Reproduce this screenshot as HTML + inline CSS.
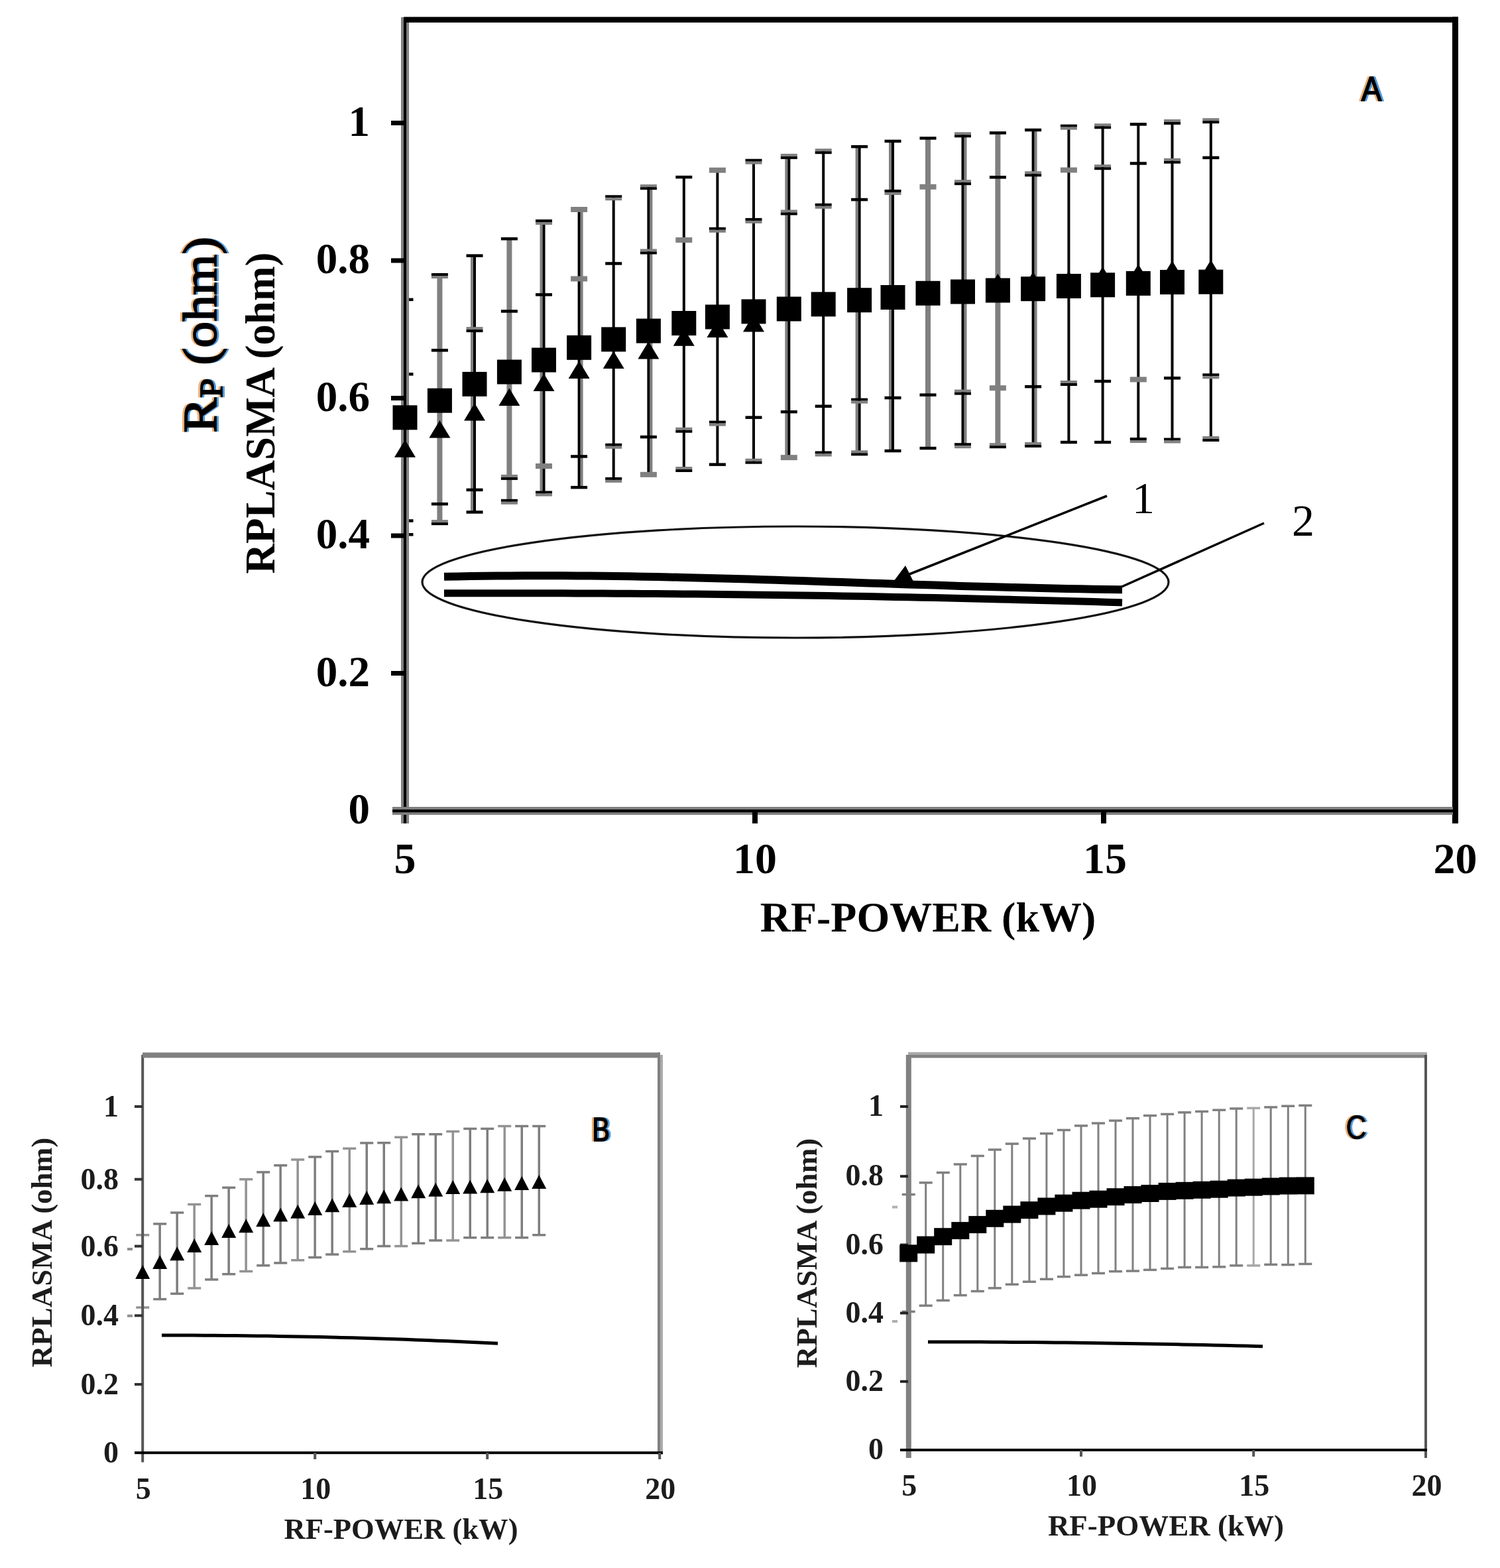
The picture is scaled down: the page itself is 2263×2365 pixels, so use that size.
<!DOCTYPE html><html><head><meta charset="utf-8"><title>RF power vs plasma resistance</title>
<style>html,body{margin:0;padding:0;background:#fff;}svg{display:block;}.tb{font-family:"Liberation Serif","Times New Roman",serif;font-weight:bold;fill:#000;}.tr{font-family:"Liberation Serif","Times New Roman",serif;font-weight:normal;fill:#000;}.tc{font-family:"Liberation Serif","Times New Roman",serif;font-weight:bold;fill:#1c1c1c;}.sb{font-family:"Liberation Sans",Arial,sans-serif;font-weight:bold;fill:#000;}</style></head><body>
<svg width="2263" height="2365" viewBox="0 0 2263 2365">
<rect x="0" y="0" width="2263" height="2365" fill="#fff"/>
<defs><filter id="ct" x="-20%" y="-20%" width="140%" height="140%" color-interpolation-filters="sRGB"><feOffset in="SourceAlpha" dx="-3" dy="0" result="l"/><feFlood flood-color="#e9a25c" flood-opacity="0.85"/><feComposite in2="l" operator="in" result="orange"/><feOffset in="SourceAlpha" dx="3" dy="0" result="r"/><feFlood flood-color="#2f86d6" flood-opacity="0.85"/><feComposite in2="r" operator="in" result="blue"/><feMerge><feMergeNode in="orange"/><feMergeNode in="blue"/><feMergeNode in="SourceGraphic"/></feMerge></filter></defs>
<g id="chartA">
<clipPath id="clipA"><rect x="611" y="0" width="1600" height="1223"/></clipPath>
<g clip-path="url(#clipA)">
<rect x="609" y="451.8" width="4" height="354.5" fill="#000"/>
<rect x="598.5" y="449.6" width="25" height="4.5" fill="#000"/>
<rect x="598.5" y="804" width="25" height="4.5" fill="#000"/>
<rect x="598.5" y="562.1" width="25" height="4.5" fill="#000"/>
<rect x="598.5" y="783.2" width="25" height="4.5" fill="#000"/>
<rect x="659.4" y="416" width="8" height="372.1" fill="#808080"/>
<rect x="650.9" y="412" width="25" height="4" fill="#000"/>
<rect x="650.9" y="416" width="25" height="4" fill="#808080"/>
<rect x="650.9" y="784.1" width="25" height="4" fill="#808080"/>
<rect x="650.9" y="788.1" width="25" height="4" fill="#000"/>
<rect x="650.9" y="526.1" width="25" height="4.5" fill="#000"/>
<rect x="650.9" y="757.9" width="25" height="4.5" fill="#000"/>
<rect x="710" y="385.6" width="4" height="386.9" fill="#808080"/>
<rect x="714" y="385.6" width="4" height="386.9" fill="#000"/>
<rect x="703.5" y="383.4" width="25" height="4.5" fill="#000"/>
<rect x="703.5" y="770.2" width="25" height="4.5" fill="#000"/>
<rect x="703.5" y="493.1" width="25" height="4" fill="#808080"/>
<rect x="703.5" y="497.1" width="25" height="4" fill="#000"/>
<rect x="703.5" y="736.6" width="25" height="4.5" fill="#000"/>
<rect x="764.4" y="360.2" width="8" height="396.6" fill="#808080"/>
<rect x="755.9" y="357.9" width="25" height="4.5" fill="#000"/>
<rect x="755.9" y="752.8" width="25" height="4" fill="#000"/>
<rect x="755.9" y="756.8" width="25" height="4" fill="#808080"/>
<rect x="755.9" y="467.2" width="25" height="4.5" fill="#000"/>
<rect x="755.9" y="715.9" width="25" height="4" fill="#808080"/>
<rect x="755.9" y="719.9" width="25" height="4" fill="#000"/>
<rect x="814.5" y="335" width="4" height="409.5" fill="#808080"/>
<rect x="818.5" y="335" width="4" height="409.5" fill="#000"/>
<rect x="808" y="331" width="25" height="4" fill="#000"/>
<rect x="808" y="335" width="25" height="4" fill="#808080"/>
<rect x="808" y="740.5" width="25" height="4" fill="#000"/>
<rect x="808" y="744.5" width="25" height="4" fill="#808080"/>
<rect x="808" y="442.2" width="25" height="4.5" fill="#000"/>
<rect x="808" y="699" width="25" height="8" fill="#808080"/>
<rect x="875.6" y="316" width="4" height="419.1" fill="#808080"/>
<rect x="871.6" y="316" width="4" height="419.1" fill="#000"/>
<rect x="861.1" y="312" width="25" height="8" fill="#808080"/>
<rect x="861.1" y="732.9" width="25" height="4.5" fill="#000"/>
<rect x="861.1" y="416.5" width="25" height="8" fill="#808080"/>
<rect x="861.1" y="686.2" width="25" height="4.5" fill="#000"/>
<rect x="923.7" y="298.3" width="4" height="425.6" fill="#000"/>
<rect x="913.2" y="294.3" width="25" height="4" fill="#000"/>
<rect x="913.2" y="298.3" width="25" height="4" fill="#808080"/>
<rect x="913.2" y="719.9" width="25" height="4" fill="#000"/>
<rect x="913.2" y="723.9" width="25" height="4" fill="#808080"/>
<rect x="913.2" y="395.2" width="25" height="4.5" fill="#000"/>
<rect x="913.2" y="668.8" width="25" height="4" fill="#000"/>
<rect x="913.2" y="672.8" width="25" height="4" fill="#808080"/>
<rect x="980.4" y="282.2" width="4" height="433.6" fill="#808080"/>
<rect x="976.4" y="282.2" width="4" height="433.6" fill="#000"/>
<rect x="965.9" y="278.2" width="25" height="4" fill="#808080"/>
<rect x="965.9" y="282.2" width="25" height="4" fill="#000"/>
<rect x="965.9" y="711.8" width="25" height="8" fill="#808080"/>
<rect x="965.9" y="375.5" width="25" height="4" fill="#808080"/>
<rect x="965.9" y="379.5" width="25" height="4" fill="#000"/>
<rect x="965.9" y="656.8" width="25" height="4.5" fill="#000"/>
<rect x="1029.8" y="267.2" width="4" height="440.8" fill="#000"/>
<rect x="1019.3" y="264.9" width="25" height="4.5" fill="#000"/>
<rect x="1019.3" y="704" width="25" height="4" fill="#808080"/>
<rect x="1019.3" y="708" width="25" height="4" fill="#000"/>
<rect x="1019.3" y="358" width="25" height="8" fill="#808080"/>
<rect x="1019.3" y="644.7" width="25" height="4" fill="#808080"/>
<rect x="1019.3" y="648.7" width="25" height="4" fill="#000"/>
<rect x="1080.4" y="256.7" width="4" height="443.9" fill="#000"/>
<rect x="1069.9" y="252.7" width="25" height="8" fill="#808080"/>
<rect x="1069.9" y="698.4" width="25" height="4.5" fill="#000"/>
<rect x="1069.9" y="342.8" width="25" height="4" fill="#000"/>
<rect x="1069.9" y="346.8" width="25" height="4" fill="#808080"/>
<rect x="1069.9" y="634.6" width="25" height="4" fill="#000"/>
<rect x="1069.9" y="638.6" width="25" height="4" fill="#808080"/>
<rect x="1135" y="243.7" width="4" height="452" fill="#000"/>
<rect x="1124.5" y="239.7" width="25" height="4" fill="#000"/>
<rect x="1124.5" y="243.7" width="25" height="4" fill="#808080"/>
<rect x="1124.5" y="691.7" width="25" height="4" fill="#808080"/>
<rect x="1124.5" y="695.7" width="25" height="4" fill="#000"/>
<rect x="1124.5" y="328.9" width="25" height="4" fill="#000"/>
<rect x="1124.5" y="332.9" width="25" height="4" fill="#808080"/>
<rect x="1124.5" y="627.4" width="25" height="4.5" fill="#000"/>
<rect x="1184.3" y="235.9" width="4" height="454.2" fill="#808080"/>
<rect x="1188.3" y="235.9" width="4" height="454.2" fill="#000"/>
<rect x="1177.8" y="231.9" width="25" height="4" fill="#808080"/>
<rect x="1177.8" y="235.9" width="25" height="4" fill="#000"/>
<rect x="1177.8" y="686.1" width="25" height="8" fill="#808080"/>
<rect x="1177.8" y="316.5" width="25" height="4" fill="#808080"/>
<rect x="1177.8" y="320.5" width="25" height="4" fill="#000"/>
<rect x="1177.8" y="618.9" width="25" height="4.5" fill="#000"/>
<rect x="1240.2" y="228.2" width="4" height="456.3" fill="#000"/>
<rect x="1229.7" y="224.2" width="25" height="4" fill="#808080"/>
<rect x="1229.7" y="228.2" width="25" height="4" fill="#000"/>
<rect x="1229.7" y="680.5" width="25" height="4" fill="#000"/>
<rect x="1229.7" y="684.5" width="25" height="4" fill="#808080"/>
<rect x="1229.7" y="306.8" width="25" height="4" fill="#000"/>
<rect x="1229.7" y="310.8" width="25" height="4" fill="#808080"/>
<rect x="1229.7" y="610.5" width="25" height="4.5" fill="#000"/>
<rect x="1290.6" y="221.2" width="4" height="462.1" fill="#808080"/>
<rect x="1294.6" y="221.2" width="4" height="462.1" fill="#000"/>
<rect x="1284.1" y="218.9" width="25" height="4.5" fill="#000"/>
<rect x="1284.1" y="679.3" width="25" height="4" fill="#808080"/>
<rect x="1284.1" y="683.3" width="25" height="4" fill="#000"/>
<rect x="1284.1" y="298.8" width="25" height="4.5" fill="#000"/>
<rect x="1284.1" y="600.6" width="25" height="4" fill="#000"/>
<rect x="1284.1" y="604.6" width="25" height="4" fill="#808080"/>
<rect x="1341" y="212.9" width="4" height="467.1" fill="#808080"/>
<rect x="1345" y="212.9" width="4" height="467.1" fill="#000"/>
<rect x="1334.5" y="210.7" width="25" height="4.5" fill="#000"/>
<rect x="1334.5" y="677.8" width="25" height="4.5" fill="#000"/>
<rect x="1334.5" y="286" width="25" height="4" fill="#000"/>
<rect x="1334.5" y="290" width="25" height="4" fill="#808080"/>
<rect x="1334.5" y="597.8" width="25" height="4.5" fill="#000"/>
<rect x="1396" y="208.4" width="8" height="467.6" fill="#808080"/>
<rect x="1387.5" y="206.2" width="25" height="4.5" fill="#000"/>
<rect x="1387.5" y="673.8" width="25" height="4.5" fill="#000"/>
<rect x="1387.5" y="277.8" width="25" height="8" fill="#808080"/>
<rect x="1387.5" y="593.4" width="25" height="4.5" fill="#000"/>
<rect x="1454.5" y="203.3" width="4" height="468.9" fill="#808080"/>
<rect x="1450.5" y="203.3" width="4" height="468.9" fill="#000"/>
<rect x="1440" y="199.3" width="25" height="4" fill="#808080"/>
<rect x="1440" y="203.3" width="25" height="4" fill="#000"/>
<rect x="1440" y="668.2" width="25" height="4" fill="#000"/>
<rect x="1440" y="672.2" width="25" height="4" fill="#808080"/>
<rect x="1440" y="271.2" width="25" height="4" fill="#808080"/>
<rect x="1440" y="275.2" width="25" height="4" fill="#000"/>
<rect x="1440" y="587.6" width="25" height="4" fill="#808080"/>
<rect x="1440" y="591.6" width="25" height="4" fill="#000"/>
<rect x="1501.4" y="200.4" width="8" height="471.8" fill="#808080"/>
<rect x="1492.9" y="198.2" width="25" height="4.5" fill="#000"/>
<rect x="1492.9" y="668.2" width="25" height="4" fill="#808080"/>
<rect x="1492.9" y="672.2" width="25" height="4" fill="#000"/>
<rect x="1492.9" y="265.1" width="25" height="4.5" fill="#000"/>
<rect x="1492.9" y="581.2" width="25" height="8" fill="#808080"/>
<rect x="1560.6" y="196.1" width="4" height="474.8" fill="#808080"/>
<rect x="1556.6" y="196.1" width="4" height="474.8" fill="#000"/>
<rect x="1546.1" y="193.8" width="25" height="4.5" fill="#000"/>
<rect x="1546.1" y="666.9" width="25" height="4" fill="#808080"/>
<rect x="1546.1" y="670.9" width="25" height="4" fill="#000"/>
<rect x="1546.1" y="258.3" width="25" height="4" fill="#808080"/>
<rect x="1546.1" y="262.3" width="25" height="4" fill="#000"/>
<rect x="1546.1" y="580.9" width="25" height="4.5" fill="#000"/>
<rect x="1610.4" y="191.7" width="4" height="475.3" fill="#000"/>
<rect x="1599.9" y="187.7" width="25" height="4" fill="#000"/>
<rect x="1599.9" y="191.7" width="25" height="4" fill="#808080"/>
<rect x="1599.9" y="664.8" width="25" height="4.5" fill="#000"/>
<rect x="1599.9" y="252.5" width="25" height="8" fill="#808080"/>
<rect x="1599.9" y="574" width="25" height="4" fill="#808080"/>
<rect x="1599.9" y="578" width="25" height="4" fill="#000"/>
<rect x="1661.6" y="190.3" width="4" height="476.7" fill="#000"/>
<rect x="1651.1" y="186.3" width="25" height="4" fill="#808080"/>
<rect x="1651.1" y="190.3" width="25" height="4" fill="#000"/>
<rect x="1651.1" y="664.8" width="25" height="4.5" fill="#000"/>
<rect x="1651.1" y="248.2" width="25" height="4" fill="#808080"/>
<rect x="1651.1" y="252.2" width="25" height="4" fill="#000"/>
<rect x="1651.1" y="572.8" width="25" height="4.5" fill="#000"/>
<rect x="1715.3" y="187.4" width="4" height="476.6" fill="#000"/>
<rect x="1704.8" y="185.2" width="25" height="4.5" fill="#000"/>
<rect x="1704.8" y="660" width="25" height="4" fill="#000"/>
<rect x="1704.8" y="664" width="25" height="4" fill="#808080"/>
<rect x="1704.8" y="244.2" width="25" height="4.5" fill="#000"/>
<rect x="1704.8" y="568.4" width="25" height="8" fill="#808080"/>
<rect x="1766.5" y="184" width="4" height="480.5" fill="#000"/>
<rect x="1756" y="180" width="25" height="4" fill="#808080"/>
<rect x="1756" y="184" width="25" height="4" fill="#000"/>
<rect x="1756" y="660.5" width="25" height="4" fill="#000"/>
<rect x="1756" y="664.5" width="25" height="4" fill="#808080"/>
<rect x="1756" y="238.7" width="25" height="4" fill="#808080"/>
<rect x="1756" y="242.7" width="25" height="4" fill="#000"/>
<rect x="1756" y="568" width="25" height="4.5" fill="#000"/>
<rect x="1824.8" y="182.2" width="4" height="479.8" fill="#000"/>
<rect x="1814.3" y="178.2" width="25" height="4" fill="#808080"/>
<rect x="1814.3" y="182.2" width="25" height="4" fill="#000"/>
<rect x="1814.3" y="658" width="25" height="4" fill="#808080"/>
<rect x="1814.3" y="662" width="25" height="4" fill="#000"/>
<rect x="1814.3" y="235.6" width="25" height="4.5" fill="#000"/>
<rect x="1814.3" y="563.3" width="25" height="4" fill="#000"/>
<rect x="1814.3" y="567.3" width="25" height="4" fill="#808080"/>
</g>
<rect x="605" y="26" width="12" height="1216" fill="#808080"/>
<rect x="609" y="26" width="4" height="1216" fill="#000"/>
<rect x="609" y="25.5" width="1591" height="8.5" fill="#000"/>
<rect x="2191" y="25.5" width="9" height="1216.5" fill="#000"/>
<rect x="592" y="1217" width="1600" height="12" fill="#808080"/>
<rect x="592" y="1221" width="1600" height="4.2" fill="#000"/>
<rect x="590" y="1012" width="21" height="7" fill="#000"/>
<rect x="590" y="804.5" width="21" height="7" fill="#000"/>
<rect x="590" y="597" width="21" height="7" fill="#000"/>
<rect x="590" y="389.5" width="21" height="7" fill="#000"/>
<rect x="590" y="182" width="21" height="7" fill="#000"/>
<rect x="1135" y="1223" width="8" height="19" fill="#000"/>
<rect x="1661" y="1223" width="8" height="19" fill="#000"/>
<path d="M611 663.2L627 689.8L595 689.8Z" fill="#000"/>
<path d="M663.4 634.1L679.4 660.6L647.4 660.6Z" fill="#000"/>
<path d="M716 608L732 634.5L700 634.5Z" fill="#000"/>
<path d="M768.4 585.5L784.4 612L752.4 612Z" fill="#000"/>
<path d="M820.5 563.6L836.5 590.1L804.5 590.1Z" fill="#000"/>
<path d="M873.6 544.6L889.6 571.1L857.6 571.1Z" fill="#000"/>
<path d="M925.7 529.5L941.7 556L909.7 556Z" fill="#000"/>
<path d="M978.4 515L994.4 541.5L962.4 541.5Z" fill="#000"/>
<path d="M1031.8 495.2L1047.8 521.7L1015.8 521.7Z" fill="#000"/>
<path d="M1082.4 482.4L1098.4 508.9L1066.4 508.9Z" fill="#000"/>
<path d="M1137 473.9L1153 500.4L1121 500.4Z" fill="#000"/>
<path d="M1190.3 457.3L1206.3 483.8L1174.3 483.8Z" fill="#000"/>
<path d="M1242.2 448.3L1258.2 474.8L1226.2 474.8Z" fill="#000"/>
<path d="M1296.6 439.3L1312.6 465.8L1280.6 465.8Z" fill="#000"/>
<path d="M1347 431.5L1363 458L1331 458Z" fill="#000"/>
<path d="M1400 425.2L1416 451.7L1384 451.7Z" fill="#000"/>
<path d="M1452.5 419.9L1468.5 446.4L1436.5 446.4Z" fill="#000"/>
<path d="M1505.4 412.8L1521.4 439.3L1489.4 439.3Z" fill="#000"/>
<path d="M1558.6 410L1574.6 436.5L1542.6 436.5Z" fill="#000"/>
<path d="M1612.4 408.6L1628.4 435.1L1596.4 435.1Z" fill="#000"/>
<path d="M1663.6 402.2L1679.6 428.7L1647.6 428.7Z" fill="#000"/>
<path d="M1717.3 398.4L1733.3 424.9L1701.3 424.9Z" fill="#000"/>
<path d="M1768.5 393.3L1784.5 419.8L1752.5 419.8Z" fill="#000"/>
<path d="M1826.8 392L1842.8 418.5L1810.8 418.5Z" fill="#000"/>
<rect x="592.5" y="611.3" width="37" height="37" fill="#000"/>
<rect x="644.9" y="585.7" width="37" height="37" fill="#000"/>
<rect x="697.5" y="560.9" width="37" height="37" fill="#000"/>
<rect x="749.9" y="542.5" width="37" height="37" fill="#000"/>
<rect x="802" y="524.5" width="37" height="37" fill="#000"/>
<rect x="855.1" y="505.8" width="37" height="37" fill="#000"/>
<rect x="907.2" y="493.4" width="37" height="37" fill="#000"/>
<rect x="959.9" y="480.6" width="37" height="37" fill="#000"/>
<rect x="1013.3" y="469" width="37" height="37" fill="#000"/>
<rect x="1063.9" y="459.5" width="37" height="37" fill="#000"/>
<rect x="1118.5" y="451.4" width="37" height="37" fill="#000"/>
<rect x="1171.8" y="447.5" width="37" height="37" fill="#000"/>
<rect x="1223.7" y="440.4" width="37" height="37" fill="#000"/>
<rect x="1278.1" y="434.2" width="37" height="37" fill="#000"/>
<rect x="1328.5" y="430" width="37" height="37" fill="#000"/>
<rect x="1381.5" y="423.8" width="37" height="37" fill="#000"/>
<rect x="1434" y="421.5" width="37" height="37" fill="#000"/>
<rect x="1486.9" y="419.5" width="37" height="37" fill="#000"/>
<rect x="1540.1" y="417.2" width="37" height="37" fill="#000"/>
<rect x="1593.9" y="413" width="37" height="37" fill="#000"/>
<rect x="1645.1" y="411.3" width="37" height="37" fill="#000"/>
<rect x="1698.8" y="408.9" width="37" height="37" fill="#000"/>
<rect x="1750" y="407.1" width="37" height="37" fill="#000"/>
<rect x="1808.3" y="406.7" width="37" height="37" fill="#000"/>
<ellipse cx="1200" cy="878" rx="563" ry="84" fill="none" stroke="#111" stroke-width="3.2"/>
<path d="M670 869.8 L690 869.4 L710 869 L730 868.7 L750 868.5 L770 868.4 L790 868.3 L810 868.2 L830 868.2 L850 868.3 L870 868.4 L890 868.6 L910 868.8 L930 869 L950 869.3 L970 869.7 L990 870.1 L1010 870.5 L1030 870.9 L1050 871.4 L1070 871.9 L1090 872.4 L1110 873 L1130 873.6 L1150 874.2 L1170 874.8 L1190 875.4 L1210 876.1 L1230 876.7 L1250 877.4 L1270 878 L1290 878.7 L1310 879.4 L1330 880 L1350 880.7 L1370 881.4 L1390 882 L1410 882.6 L1430 883.3 L1450 883.9 L1470 884.5 L1490 885.1 L1510 885.6 L1530 886.1 L1550 886.6 L1570 887.1 L1590 887.5 L1610 888 L1630 888.3 L1650 888.7 L1670 889 L1690 889.2 L1693 889.2" fill="none" stroke="#000" stroke-width="12" stroke-linejoin="round"/>
<path d="M670 894.8 L690 894.8 L710 894.7 L730 894.7 L750 894.7 L770 894.7 L790 894.7 L810 894.7 L830 894.8 L850 894.8 L870 894.9 L890 895 L910 895.1 L930 895.2 L950 895.3 L970 895.4 L990 895.6 L1010 895.7 L1030 895.9 L1050 896.1 L1070 896.3 L1090 896.5 L1110 896.7 L1130 896.9 L1150 897.2 L1170 897.4 L1190 897.7 L1210 898 L1230 898.3 L1250 898.6 L1270 898.9 L1290 899.3 L1310 899.6 L1330 900 L1350 900.4 L1370 900.8 L1390 901.2 L1410 901.6 L1430 902 L1450 902.5 L1470 902.9 L1490 903.4 L1510 903.9 L1530 904.4 L1550 904.9 L1570 905.4 L1590 905.9 L1610 906.5 L1630 907 L1650 907.6 L1670 908.2 L1690 908.8 L1693 908.9" fill="none" stroke="#000" stroke-width="11" stroke-linejoin="round"/>
<line x1="1670" y1="748" x2="1372" y2="866" stroke="#000" stroke-width="3.5"/>
<path d="M1366 853 L1378 877 L1348 877 Z" fill="#000"/>
<line x1="1907" y1="789" x2="1690" y2="886" stroke="#000" stroke-width="3.5"/>
<text class="tb" x="558" y="1242" font-size="65" text-anchor="end">0</text>
<text class="tb" x="558" y="1034.5" font-size="65" text-anchor="end">0.2</text>
<text class="tb" x="558" y="827" font-size="65" text-anchor="end">0.4</text>
<text class="tb" x="558" y="619.5" font-size="65" text-anchor="end">0.6</text>
<text class="tb" x="558" y="412" font-size="65" text-anchor="end">0.8</text>
<text class="tb" x="558" y="204.5" font-size="65" text-anchor="end">1</text>
<text class="tb" x="611" y="1317" font-size="66" text-anchor="middle">5</text>
<text class="tb" x="1139" y="1317" font-size="66" text-anchor="middle">10</text>
<text class="tb" x="1667" y="1317" font-size="66" text-anchor="middle">15</text>
<text class="tb" x="2195.5" y="1317" font-size="66" text-anchor="middle">20</text>
<text class="tb" x="1400" y="1405" font-size="64" text-anchor="middle">RF-POWER (kW)</text>
<g filter="url(#ct)">
<text class="tr" transform="translate(325.7 505) rotate(-90) scale(1.1 1)" font-size="72" stroke="#000" stroke-width="1.8" text-anchor="middle">R<tspan font-size="48" dy="9">P</tspan><tspan dy="-9"> (ohm)</tspan></text>
</g>
<text class="tb" transform="translate(414 623) rotate(-90)" font-size="63" text-anchor="middle">RPLASMA (ohm)</text>
<g filter="url(#ct)"><text class="sb" transform="translate(2069 152) scale(0.88 1)" font-size="52" style="font-weight:normal" stroke="#000" stroke-width="1.6" text-anchor="middle">A</text></g>
<text class="tr" x="1725" y="774" font-size="68" text-anchor="middle">1</text>
<text class="tr" x="1966" y="808" font-size="68" text-anchor="middle">2</text>
</g>
<g id="chartB">
<rect x="213.4" y="1862.7" width="3.5" height="109.4" fill="#939393"/>
<rect x="205.2" y="1861" width="20" height="3.5" fill="#939393"/>
<rect x="205.2" y="1970.3" width="20" height="3.5" fill="#939393"/>
<rect x="239.4" y="1846" width="3.5" height="113.6" fill="#7e7e7e"/>
<rect x="231.2" y="1844.2" width="20" height="3.5" fill="#7e7e7e"/>
<rect x="231.2" y="1957.8" width="20" height="3.5" fill="#7e7e7e"/>
<rect x="265.4" y="1829.1" width="3.5" height="122.1" fill="#7e7e7e"/>
<rect x="257.2" y="1827.3" width="20" height="3.5" fill="#7e7e7e"/>
<rect x="257.2" y="1949.5" width="20" height="3.5" fill="#7e7e7e"/>
<rect x="291.4" y="1816.6" width="3.5" height="126.3" fill="#939393"/>
<rect x="283.2" y="1814.8" width="20" height="3.5" fill="#939393"/>
<rect x="283.2" y="1941.2" width="20" height="3.5" fill="#939393"/>
<rect x="317.4" y="1803.8" width="3.5" height="126.1" fill="#7e7e7e"/>
<rect x="309.2" y="1802" width="20" height="3.5" fill="#7e7e7e"/>
<rect x="309.2" y="1928.2" width="20" height="3.5" fill="#7e7e7e"/>
<rect x="343.4" y="1791.3" width="3.5" height="130.5" fill="#7e7e7e"/>
<rect x="335.2" y="1789.5" width="20" height="3.5" fill="#7e7e7e"/>
<rect x="335.2" y="1920" width="20" height="3.5" fill="#7e7e7e"/>
<rect x="369.4" y="1778.8" width="3.5" height="138.8" fill="#939393"/>
<rect x="361.2" y="1777" width="20" height="3.5" fill="#939393"/>
<rect x="361.2" y="1915.8" width="20" height="3.5" fill="#939393"/>
<rect x="395.4" y="1767.9" width="3.5" height="140.8" fill="#7e7e7e"/>
<rect x="387.2" y="1766.2" width="20" height="3.5" fill="#7e7e7e"/>
<rect x="387.2" y="1907" width="20" height="3.5" fill="#7e7e7e"/>
<rect x="421.4" y="1757.7" width="3.5" height="147.2" fill="#7e7e7e"/>
<rect x="413.2" y="1756" width="20" height="3.5" fill="#7e7e7e"/>
<rect x="413.2" y="1903.2" width="20" height="3.5" fill="#7e7e7e"/>
<rect x="447.4" y="1749.1" width="3.5" height="151.6" fill="#939393"/>
<rect x="439.2" y="1747.3" width="20" height="3.5" fill="#939393"/>
<rect x="439.2" y="1899" width="20" height="3.5" fill="#939393"/>
<rect x="473.4" y="1744.9" width="3.5" height="151.6" fill="#7e7e7e"/>
<rect x="465.2" y="1743.2" width="20" height="3.5" fill="#7e7e7e"/>
<rect x="465.2" y="1894.8" width="20" height="3.5" fill="#7e7e7e"/>
<rect x="499.4" y="1736.6" width="3.5" height="155.5" fill="#7e7e7e"/>
<rect x="491.2" y="1734.8" width="20" height="3.5" fill="#7e7e7e"/>
<rect x="491.2" y="1890.3" width="20" height="3.5" fill="#7e7e7e"/>
<rect x="525.5" y="1732.2" width="3.5" height="155.6" fill="#939393"/>
<rect x="517.2" y="1730.5" width="20" height="3.5" fill="#939393"/>
<rect x="517.2" y="1886" width="20" height="3.5" fill="#939393"/>
<rect x="551.5" y="1724" width="3.5" height="159.7" fill="#7e7e7e"/>
<rect x="543.2" y="1722.2" width="20" height="3.5" fill="#7e7e7e"/>
<rect x="543.2" y="1882" width="20" height="3.5" fill="#7e7e7e"/>
<rect x="577.5" y="1723.8" width="3.5" height="155.7" fill="#7e7e7e"/>
<rect x="569.2" y="1722" width="20" height="3.5" fill="#7e7e7e"/>
<rect x="569.2" y="1877.8" width="20" height="3.5" fill="#7e7e7e"/>
<rect x="603.5" y="1715.2" width="3.5" height="164.3" fill="#939393"/>
<rect x="595.2" y="1713.5" width="20" height="3.5" fill="#939393"/>
<rect x="595.2" y="1877.8" width="20" height="3.5" fill="#939393"/>
<rect x="629.5" y="1710.8" width="3.5" height="164.5" fill="#7e7e7e"/>
<rect x="621.2" y="1709" width="20" height="3.5" fill="#7e7e7e"/>
<rect x="621.2" y="1873.5" width="20" height="3.5" fill="#7e7e7e"/>
<rect x="655.5" y="1710.8" width="3.5" height="160.1" fill="#7e7e7e"/>
<rect x="647.2" y="1709" width="20" height="3.5" fill="#7e7e7e"/>
<rect x="647.2" y="1869.2" width="20" height="3.5" fill="#7e7e7e"/>
<rect x="681.5" y="1706.6" width="3.5" height="164.3" fill="#939393"/>
<rect x="673.2" y="1704.8" width="20" height="3.5" fill="#939393"/>
<rect x="673.2" y="1869.2" width="20" height="3.5" fill="#939393"/>
<rect x="707.5" y="1702.4" width="3.5" height="164.3" fill="#7e7e7e"/>
<rect x="699.2" y="1700.7" width="20" height="3.5" fill="#7e7e7e"/>
<rect x="699.2" y="1865" width="20" height="3.5" fill="#7e7e7e"/>
<rect x="733.5" y="1702.4" width="3.5" height="164.3" fill="#7e7e7e"/>
<rect x="725.2" y="1700.7" width="20" height="3.5" fill="#7e7e7e"/>
<rect x="725.2" y="1865" width="20" height="3.5" fill="#7e7e7e"/>
<rect x="759.5" y="1698.5" width="3.5" height="168.2" fill="#939393"/>
<rect x="751.2" y="1696.8" width="20" height="3.5" fill="#939393"/>
<rect x="751.2" y="1865" width="20" height="3.5" fill="#939393"/>
<rect x="785.5" y="1698.5" width="3.5" height="168.2" fill="#7e7e7e"/>
<rect x="777.2" y="1696.8" width="20" height="3.5" fill="#7e7e7e"/>
<rect x="777.2" y="1865" width="20" height="3.5" fill="#7e7e7e"/>
<rect x="811.5" y="1698.5" width="3.5" height="164.3" fill="#7e7e7e"/>
<rect x="803.2" y="1696.8" width="20" height="3.5" fill="#7e7e7e"/>
<rect x="803.2" y="1861" width="20" height="3.5" fill="#7e7e7e"/>
<path d="M244 2014 L260 2014 L276 2014 L292 2014.1 L308 2014.2 L324 2014.3 L340 2014.4 L356 2014.5 L372 2014.7 L388 2014.9 L404 2015.1 L420 2015.4 L436 2015.7 L452 2016 L468 2016.3 L484 2016.6 L500 2017 L516 2017.4 L532 2017.8 L548 2018.3 L564 2018.8 L580 2019.3 L596 2019.8 L612 2020.3 L628 2020.9 L644 2021.5 L660 2022.2 L676 2022.8 L692 2023.5 L708 2024.2 L724 2024.9 L740 2025.7 L751 2026.2" fill="none" stroke="#000" stroke-width="5"/>
<rect x="213.2" y="1591" width="4" height="614.5" fill="#555"/>
<rect x="215" y="1587.5" width="781" height="8" fill="#808080"/>
<rect x="992" y="1587.5" width="4" height="606" fill="#808080"/>
<rect x="996" y="1591" width="4" height="603" fill="#aaa"/>
<rect x="203" y="2189.2" width="797" height="4" fill="#000"/>
<rect x="203" y="2086" width="12" height="4" fill="#333"/>
<rect x="203" y="1982.3" width="12" height="4" fill="#333"/>
<rect x="203" y="1877.6" width="12" height="4" fill="#333"/>
<rect x="203" y="1776.7" width="12" height="4" fill="#333"/>
<rect x="203" y="1667" width="12" height="4" fill="#333"/>
<rect x="473.2" y="2191" width="4" height="10" fill="#555"/>
<rect x="733.2" y="2191" width="4" height="10" fill="#555"/>
<rect x="993.2" y="2191" width="4" height="10" fill="#555"/>
<path d="M215.2 1908L226.2 1929L204.2 1929Z" fill="#000"/>
<path d="M241.2 1893L252.2 1914L230.2 1914Z" fill="#000"/>
<path d="M267.2 1880.2L278.2 1901.2L256.2 1901.2Z" fill="#000"/>
<path d="M293.2 1868.1L304.2 1889.1L282.2 1889.1Z" fill="#000"/>
<path d="M319.2 1857L330.2 1878L308.2 1878Z" fill="#000"/>
<path d="M345.2 1846L356.2 1867L334.2 1867Z" fill="#000"/>
<path d="M371.2 1838.3L382.2 1859.3L360.2 1859.3Z" fill="#000"/>
<path d="M397.2 1829.3L408.2 1850.3L386.2 1850.3Z" fill="#000"/>
<path d="M423.2 1821.6L434.2 1842.6L412.2 1842.6Z" fill="#000"/>
<path d="M449.2 1816.8L460.2 1837.8L438.2 1837.8Z" fill="#000"/>
<path d="M475.2 1812L486.2 1833L464.2 1833Z" fill="#000"/>
<path d="M501.2 1807.2L512.2 1828.2L490.2 1828.2Z" fill="#000"/>
<path d="M527.2 1800L538.2 1821L516.2 1821Z" fill="#000"/>
<path d="M553.2 1795.9L564.2 1816.9L542.2 1816.9Z" fill="#000"/>
<path d="M579.2 1794.2L590.2 1815.2L568.2 1815.2Z" fill="#000"/>
<path d="M605.2 1790.5L616.2 1811.5L594.2 1811.5Z" fill="#000"/>
<path d="M631.2 1786.2L642.2 1807.2L620.2 1807.2Z" fill="#000"/>
<path d="M657.2 1783.8L668.2 1804.8L646.2 1804.8Z" fill="#000"/>
<path d="M683.2 1780.1L694.2 1801.1L672.2 1801.1Z" fill="#000"/>
<path d="M709.2 1779.5L720.2 1800.5L698.2 1800.5Z" fill="#000"/>
<path d="M735.2 1778.2L746.2 1799.2L724.2 1799.2Z" fill="#000"/>
<path d="M761.2 1775.8L772.2 1796.8L750.2 1796.8Z" fill="#000"/>
<path d="M787.2 1773.9L798.2 1794.9L776.2 1794.9Z" fill="#000"/>
<path d="M813.2 1772.1L824.2 1793.1L802.2 1793.1Z" fill="#000"/>
<text class="tc" x="179" y="2206.2" font-size="46" text-anchor="end" fill="#111">0</text>
<text class="tc" x="179" y="2103" font-size="46" text-anchor="end" fill="#111">0.2</text>
<text class="tc" x="179" y="1999.3" font-size="46" text-anchor="end" fill="#111">0.4</text>
<text class="tc" x="179" y="1894.6" font-size="46" text-anchor="end" fill="#111">0.6</text>
<text class="tc" x="179" y="1793.7" font-size="46" text-anchor="end" fill="#111">0.8</text>
<text class="tc" x="179" y="1684" font-size="46" text-anchor="end" fill="#111">1</text>
<text class="tc" x="216.2" y="2261" font-size="46" text-anchor="middle">5</text>
<text class="tc" x="476.2" y="2261" font-size="46" text-anchor="middle">10</text>
<text class="tc" x="736.2" y="2261" font-size="46" text-anchor="middle">15</text>
<text class="tc" x="996.2" y="2261" font-size="46" text-anchor="middle">20</text>
<text class="tc" x="605" y="2321" font-size="44.6" text-anchor="middle">RF-POWER (kW)</text>
<text class="tc" transform="translate(78.4 1889) rotate(-90)" font-size="45" text-anchor="middle">RPLASMA (ohm)</text>
<rect x="192" y="1882" width="8" height="4" fill="#909090"/>
<rect x="192" y="1982.7" width="8" height="4" fill="#909090"/>
<g filter="url(#ct)"><text class="sb" transform="translate(906.5 1721) scale(0.8 1)" font-size="50" style="font-weight:normal" stroke="#000" stroke-width="1.6" text-anchor="middle">B</text></g>
</g>
<g id="chartC">
<rect x="1369.2" y="1801.7" width="3" height="176.6" fill="#808080"/>
<rect x="1360.7" y="1799.9" width="20" height="3.5" fill="#808080"/>
<rect x="1360.7" y="1976.5" width="20" height="3.5" fill="#808080"/>
<rect x="1395.2" y="1783.8" width="3" height="185.4" fill="#808080"/>
<rect x="1386.7" y="1782.1" width="20" height="3.5" fill="#808080"/>
<rect x="1386.7" y="1967.5" width="20" height="3.5" fill="#808080"/>
<rect x="1421.2" y="1768.7" width="3" height="192.8" fill="#808080"/>
<rect x="1412.8" y="1766.9" width="20" height="3.5" fill="#808080"/>
<rect x="1412.8" y="1959.7" width="20" height="3.5" fill="#808080"/>
<rect x="1447.3" y="1756" width="3" height="197.6" fill="#808080"/>
<rect x="1438.8" y="1754.3" width="20" height="3.5" fill="#808080"/>
<rect x="1438.8" y="1951.9" width="20" height="3.5" fill="#808080"/>
<rect x="1473.3" y="1743.5" width="3" height="204" fill="#808080"/>
<rect x="1464.8" y="1741.7" width="20" height="3.5" fill="#808080"/>
<rect x="1464.8" y="1945.8" width="20" height="3.5" fill="#808080"/>
<rect x="1499.3" y="1734" width="3" height="208.8" fill="#808080"/>
<rect x="1490.8" y="1732.3" width="20" height="3.5" fill="#808080"/>
<rect x="1490.8" y="1941.1" width="20" height="3.5" fill="#808080"/>
<rect x="1525.3" y="1725.2" width="3" height="212" fill="#808080"/>
<rect x="1516.8" y="1723.4" width="20" height="3.5" fill="#808080"/>
<rect x="1516.8" y="1935.5" width="20" height="3.5" fill="#808080"/>
<rect x="1551.4" y="1717.2" width="3" height="216" fill="#808080"/>
<rect x="1542.9" y="1715.4" width="20" height="3.5" fill="#808080"/>
<rect x="1542.9" y="1931.5" width="20" height="3.5" fill="#808080"/>
<rect x="1577.4" y="1709.7" width="3" height="219.6" fill="#808080"/>
<rect x="1568.9" y="1708" width="20" height="3.5" fill="#808080"/>
<rect x="1568.9" y="1927.6" width="20" height="3.5" fill="#808080"/>
<rect x="1603.4" y="1704.5" width="3" height="221.2" fill="#808080"/>
<rect x="1594.9" y="1702.7" width="20" height="3.5" fill="#808080"/>
<rect x="1594.9" y="1923.9" width="20" height="3.5" fill="#808080"/>
<rect x="1629.5" y="1698" width="3" height="225.2" fill="#808080"/>
<rect x="1621" y="1696.2" width="20" height="3.5" fill="#808080"/>
<rect x="1621" y="1921.4" width="20" height="3.5" fill="#808080"/>
<rect x="1655.5" y="1694.1" width="3" height="226.3" fill="#808080"/>
<rect x="1647" y="1692.4" width="20" height="3.5" fill="#808080"/>
<rect x="1647" y="1918.7" width="20" height="3.5" fill="#808080"/>
<rect x="1681.5" y="1690.3" width="3" height="227.3" fill="#808080"/>
<rect x="1673" y="1688.5" width="20" height="3.5" fill="#808080"/>
<rect x="1673" y="1915.9" width="20" height="3.5" fill="#808080"/>
<rect x="1707.5" y="1686.8" width="3" height="230.2" fill="#808080"/>
<rect x="1699" y="1685" width="20" height="3.5" fill="#808080"/>
<rect x="1699" y="1915.3" width="20" height="3.5" fill="#808080"/>
<rect x="1733.5" y="1682.7" width="3" height="232.7" fill="#808080"/>
<rect x="1725" y="1680.9" width="20" height="3.5" fill="#808080"/>
<rect x="1725" y="1913.6" width="20" height="3.5" fill="#808080"/>
<rect x="1759.6" y="1680.4" width="3" height="233" fill="#808080"/>
<rect x="1751.1" y="1678.7" width="20" height="3.5" fill="#808080"/>
<rect x="1751.1" y="1911.6" width="20" height="3.5" fill="#808080"/>
<rect x="1785.6" y="1677.9" width="3" height="233.6" fill="#808080"/>
<rect x="1777.1" y="1676.1" width="20" height="3.5" fill="#808080"/>
<rect x="1777.1" y="1909.7" width="20" height="3.5" fill="#808080"/>
<rect x="1811.6" y="1676.4" width="3" height="235.1" fill="#808080"/>
<rect x="1803.1" y="1674.7" width="20" height="3.5" fill="#808080"/>
<rect x="1803.1" y="1909.7" width="20" height="3.5" fill="#808080"/>
<rect x="1837.7" y="1674.3" width="3" height="236.6" fill="#808080"/>
<rect x="1829.2" y="1672.5" width="20" height="3.5" fill="#808080"/>
<rect x="1829.2" y="1909.1" width="20" height="3.5" fill="#808080"/>
<rect x="1863.7" y="1672.1" width="3" height="236.8" fill="#808080"/>
<rect x="1855.2" y="1670.3" width="20" height="3.5" fill="#808080"/>
<rect x="1855.2" y="1907.1" width="20" height="3.5" fill="#808080"/>
<rect x="1889.7" y="1671.4" width="3" height="237.5" fill="#a8a8a8"/>
<rect x="1881.2" y="1669.6" width="20" height="3.5" fill="#a8a8a8"/>
<rect x="1881.2" y="1907.1" width="20" height="3.5" fill="#a8a8a8"/>
<rect x="1915.7" y="1669.9" width="3" height="237.5" fill="#808080"/>
<rect x="1907.2" y="1668.2" width="20" height="3.5" fill="#808080"/>
<rect x="1907.2" y="1905.6" width="20" height="3.5" fill="#808080"/>
<rect x="1941.8" y="1668.3" width="3" height="239.4" fill="#808080"/>
<rect x="1933.2" y="1666.5" width="20" height="3.5" fill="#808080"/>
<rect x="1933.2" y="1905.9" width="20" height="3.5" fill="#808080"/>
<rect x="1967.8" y="1667.4" width="3" height="239" fill="#808080"/>
<rect x="1959.3" y="1665.6" width="20" height="3.5" fill="#808080"/>
<rect x="1959.3" y="1904.7" width="20" height="3.5" fill="#808080"/>
<path d="M1400 2023.9 L1416 2023.9 L1432 2024 L1448 2024 L1464 2024 L1480 2024.1 L1496 2024.2 L1512 2024.3 L1528 2024.4 L1544 2024.5 L1560 2024.6 L1576 2024.8 L1592 2024.9 L1608 2025.1 L1624 2025.3 L1640 2025.5 L1656 2025.7 L1672 2025.9 L1688 2026.2 L1704 2026.4 L1720 2026.7 L1736 2027 L1752 2027.3 L1768 2027.6 L1784 2027.9 L1800 2028.2 L1816 2028.6 L1832 2028.9 L1848 2029.3 L1864 2029.7 L1880 2030.1 L1896 2030.6 L1905 2030.8" fill="none" stroke="#000" stroke-width="5"/>
<rect x="1366.8" y="1591" width="8" height="608" fill="#808080"/>
<rect x="1370" y="1587" width="783" height="4" fill="#aaa"/>
<rect x="1370" y="1591" width="783" height="4.6" fill="#808080"/>
<rect x="2149" y="1591" width="4" height="608" fill="#555"/>
<rect x="1358" y="2185" width="795" height="4" fill="#000"/>
<rect x="1358" y="2081.7" width="12" height="4" fill="#222"/>
<rect x="1358" y="1978.5" width="12" height="4" fill="#222"/>
<rect x="1358" y="1875.6" width="12" height="4" fill="#222"/>
<rect x="1358" y="1772.2" width="12" height="4" fill="#222"/>
<rect x="1358" y="1667" width="12" height="4" fill="#222"/>
<rect x="1629" y="2187" width="4" height="10" fill="#555"/>
<rect x="1889.2" y="2187" width="4" height="10" fill="#555"/>
<rect x="1357.2" y="1877.4" width="27" height="26" fill="#000"/>
<rect x="1383.2" y="1864.6" width="27" height="26" fill="#000"/>
<rect x="1409.2" y="1852.2" width="27" height="26" fill="#000"/>
<rect x="1435.3" y="1843.1" width="27" height="26" fill="#000"/>
<rect x="1461.3" y="1834.1" width="27" height="26" fill="#000"/>
<rect x="1487.3" y="1824.8" width="27" height="26" fill="#000"/>
<rect x="1513.3" y="1818.6" width="27" height="26" fill="#000"/>
<rect x="1539.4" y="1812.2" width="27" height="26" fill="#000"/>
<rect x="1565.4" y="1806.5" width="27" height="26" fill="#000"/>
<rect x="1591.4" y="1801.7" width="27" height="26" fill="#000"/>
<rect x="1617.5" y="1797.7" width="27" height="26" fill="#000"/>
<rect x="1643.5" y="1795.7" width="27" height="26" fill="#000"/>
<rect x="1669.5" y="1792.2" width="27" height="26" fill="#000"/>
<rect x="1695.5" y="1789.1" width="27" height="26" fill="#000"/>
<rect x="1721.5" y="1787" width="27" height="26" fill="#000"/>
<rect x="1747.6" y="1783.9" width="27" height="26" fill="#000"/>
<rect x="1773.6" y="1782.8" width="27" height="26" fill="#000"/>
<rect x="1799.6" y="1781.8" width="27" height="26" fill="#000"/>
<rect x="1825.7" y="1780.7" width="27" height="26" fill="#000"/>
<rect x="1851.7" y="1778.6" width="27" height="26" fill="#000"/>
<rect x="1877.7" y="1777.7" width="27" height="26" fill="#000"/>
<rect x="1903.7" y="1776.5" width="27" height="26" fill="#000"/>
<rect x="1929.8" y="1775.6" width="27" height="26" fill="#000"/>
<rect x="1955.8" y="1775.4" width="27" height="26" fill="#000"/>
<text class="tc" x="1333" y="2200.6" font-size="46" text-anchor="end" fill="#111">0</text>
<text class="tc" x="1333" y="2097.7" font-size="46" text-anchor="end" fill="#111">0.2</text>
<text class="tc" x="1333" y="1994.5" font-size="46" text-anchor="end" fill="#111">0.4</text>
<text class="tc" x="1333" y="1891.6" font-size="46" text-anchor="end" fill="#111">0.6</text>
<text class="tc" x="1333" y="1788.2" font-size="46" text-anchor="end" fill="#111">0.8</text>
<text class="tc" x="1333" y="1683" font-size="46" text-anchor="end" fill="#111">1</text>
<text class="tc" x="1371.7" y="2256" font-size="46" text-anchor="middle">5</text>
<text class="tc" x="1632" y="2256" font-size="46" text-anchor="middle">10</text>
<text class="tc" x="1892.2" y="2256" font-size="46" text-anchor="middle">15</text>
<text class="tc" x="2152.4" y="2256" font-size="46" text-anchor="middle">20</text>
<text class="tc" x="1759" y="2316" font-size="45" text-anchor="middle">RF-POWER (kW)</text>
<text class="tc" transform="translate(1231.7 1890) rotate(-90)" font-size="45" text-anchor="middle">RPLASMA (ohm)</text>
<rect x="1346" y="1818.6" width="8" height="4" fill="#b0b0b0"/>
<rect x="1346" y="1991" width="8" height="4" fill="#b0b0b0"/>
<g filter="url(#ct)"><text class="sb" transform="translate(2046 1718) scale(0.86 1)" font-size="50" style="font-weight:normal" stroke="#000" stroke-width="0.8" text-anchor="middle">C</text></g>
</g>
</svg></body></html>
